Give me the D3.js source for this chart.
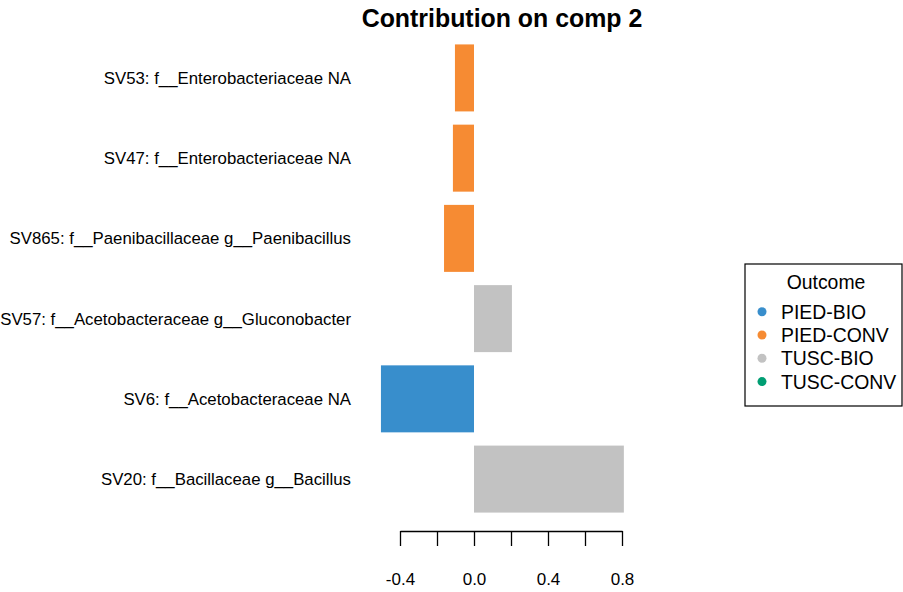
<!DOCTYPE html>
<html><head><meta charset="utf-8">
<script src="https://cdn.jsdelivr.net/npm/d3@7/dist/d3.min.js"></script>
<style>body{margin:0;background:#fff}svg{display:block;font-family:"Liberation Sans",Arial,Helvetica,sans-serif}</style>
</head><body><svg id="c" width="903" height="592"></svg>
<script>
const labels = ["SV53: f__Enterobacteriaceae NA","SV47: f__Enterobacteriaceae NA","SV865: f__Paenibacillaceae g__Paenibacillus","SV57: f__Acetobacteraceae g__Gluconobacter","SV6: f__Acetobacteraceae NA","SV20: f__Bacillaceae g__Bacillus"];
const values = [-0.103,-0.114,-0.162,0.205,-0.503,0.81];
const groups = ["PIED-CONV","PIED-CONV","PIED-CONV","TUSC-BIO","PIED-BIO","TUSC-BIO"];
const legendItems = ["PIED-BIO","PIED-CONV","TUSC-BIO","TUSC-CONV"];
const legendColors = ["#388ECC","#F68B33","#C2C2C2","#009E73"];
const tickValues = [-0.4,-0.2,0.0,0.2,0.4,0.6,0.8];
const tickLabels = ["-0.4","","0.0","","0.4","","0.8"];

const svg = d3.select("#c");
const color = d3.scaleOrdinal().domain(legendItems).range(legendColors);
const x = d3.scaleLinear().domain([-0.4,0.8]).range([400,622]);
const y = d3.scaleBand().domain(labels).range([38,519]).paddingInner(0.165).paddingOuter(0.08);

svg.append("text").attr("x",502).attr("y",27).attr("text-anchor","middle")
  .attr("font-size",24.9).attr("font-weight","bold").text("Contribution on comp 2");

svg.selectAll("rect.bar").data(labels).join("rect").attr("class","bar")
  .attr("x",(d,i)=>x(Math.min(0,values[i])))
  .attr("width",(d,i)=>Math.abs(x(values[i])-x(0)))
  .attr("y",d=>y(d)).attr("height",y.bandwidth())
  .attr("fill",(d,i)=>color(groups[i]));

svg.selectAll("text.lab").data(labels).join("text").attr("class","lab")
  .attr("x",351).attr("y",d=>y(d)+y.bandwidth()/2).attr("dy","0.36em")
  .attr("text-anchor","end").attr("font-size",16.8).text(d=>d);

const ax = svg.append("g").attr("transform","translate(0,531)")
  .call(d3.axisBottom(x).tickValues(tickValues).tickSize(15).tickSizeOuter(0).tickFormat((d,i)=>tickLabels[i]));
ax.select(".domain").attr("stroke","#000").attr("stroke-width",1.3);
ax.selectAll(".tick line").attr("stroke","#000").attr("stroke-width",1.3);
ax.selectAll(".tick text").attr("font-size",17).attr("font-family","Liberation Sans, Arial, sans-serif").attr("fill","#000").attr("y",42);

const lg = svg.append("g");
lg.append("rect").attr("x",745).attr("y",264).attr("width",157).attr("height",142)
  .attr("fill","#fff").attr("stroke","#000").attr("stroke-width",1.2);
lg.append("text").attr("x",826).attr("y",288.5).attr("text-anchor","middle").attr("font-size",19.4).text("Outcome");
legendItems.forEach((g,i)=>{
  const yy = 311.7 + i*23.3;
  lg.append("circle").attr("cx",762).attr("cy",yy).attr("r",4.5).attr("fill",legendColors[i]);
  lg.append("text").attr("x",781).attr("y",yy).attr("dy","0.36em").attr("font-size",19.4).text(g);
});
</script></body></html>
